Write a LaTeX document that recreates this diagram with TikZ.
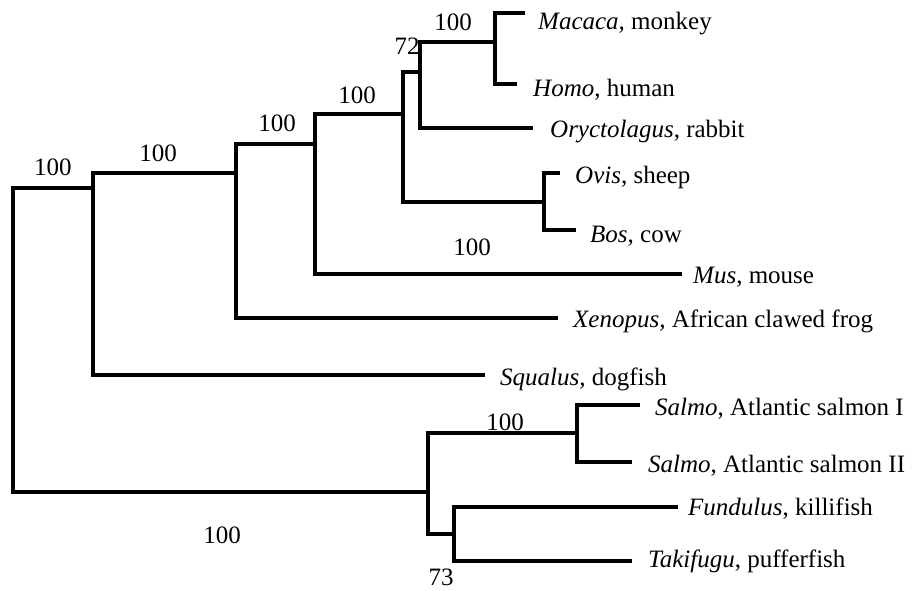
\documentclass[tikz,border=0pt]{standalone}
\usepackage{fontspec}
\setmainfont{Liberation Serif}
\begin{document}
\begin{tikzpicture}[x=1pt,y=-1pt,
  branch/.style={line width=4pt,line join=miter},
  taxon/.style={anchor=base west,inner sep=0pt,font=\fontsize{25}{28}\selectfont},
  support/.style={anchor=center,inner sep=0pt,font=\fontsize{25}{28}\selectfont}]
\useasboundingbox (0,0) rectangle (916,591);

% internal nodes: (x of the vertical bar, y where the parent joins)
\coordinate (root) at (13,340);
\coordinate (nA)   at (93,188);
\coordinate (nB)   at (236,173);
\coordinate (nC)   at (315,144);
\coordinate (nE)   at (403,114);
\coordinate (nD)   at (420,72);
\coordinate (nMH)  at (495,42);
\coordinate (nOB)  at (544,202);
\coordinate (nF)   at (428,492);
\coordinate (nS)   at (577,433);
\coordinate (nFT)  at (454,534);

% branch tips
\coordinate (tMacaca)   at (525,13);
\coordinate (tHomo)     at (517,84);
\coordinate (tOrycto)   at (533,128);
\coordinate (tOvis)     at (560,173);
\coordinate (tBos)      at (576,230);
\coordinate (tMus)      at (682,274);
\coordinate (tXenopus)  at (558,318);
\coordinate (tSqualus)  at (485,375);
\coordinate (tSalmoI)   at (640,405);
\coordinate (tSalmoII)  at (632,462);
\coordinate (tFundulus) at (678,507);
\coordinate (tTakifugu) at (632,561);

% tree brackets
\draw[branch] (nA) -| (root) |- (nF);
\draw[branch] (nB) -| (nA) |- (tSqualus);
\draw[branch] (nC) -| (nB) |- (tXenopus);
\draw[branch] (nE) -| (nC) |- (tMus);
\draw[branch] (nD) -| (nE) |- (nOB);
\draw[branch] (nMH) -| (nD) |- (tOrycto);
\draw[branch] (tMacaca) -| (nMH) |- (tHomo);
\draw[branch] (tOvis) -| (nOB) |- (tBos);
\draw[branch] (nS) -| (nF) |- (nFT);
\draw[branch] (tSalmoI) -| (nS) |- (tSalmoII);
\draw[branch] (tFundulus) -| (nFT) |- (tTakifugu);

% taxon names
\node[taxon] (lMacaca)   at (538,30)  {\textit{Macaca,} monkey};
\node[taxon] (lHomo)     at (533,97)  {\textit{Homo}, human};
\node[taxon] (lOrycto)   at (550,138) {\textit{Oryctolagus}, rabbit};
\node[taxon] (lOvis)     at (575,183) {\textit{Ovis}, sheep};
\node[taxon] (lBos)      at (590,242) {\textit{Bos}, cow};
\node[taxon] (lMus)      at (693,283) {\textit{Mus}, mouse};
\node[taxon] (lXenopus)  at (573,327) {\textit{Xenopus,} African clawed frog};
\node[taxon] (lSqualus)  at (500,385) {\textit{Squalus,} dogfish};
\node[taxon] (lSalmoI)   at (655,415) {\textit{Salmo}, Atlantic salmon I};
\node[taxon] (lSalmoII)  at (648,472) {\textit{Salmo}, Atlantic salmon II};
\node[taxon] (lFundulus) at (688,515) {\textit{Fundulus}, killifish};
\node[taxon] (lTakifugu) at (648,567) {\textit{Takifugu}, pufferfish};

% bootstrap support values
\node[support] (sA)  at (53,167)  {100};
\node[support] (sB)  at (158,153) {100};
\node[support] (sC)  at (277,123) {100};
\node[support] (sE)  at (357,95)  {100};
\node[support] (sD)  at (407,46)  {72};
\node[support] (sMH) at (453,22)  {100};
\node[support] (sOB) at (472,247) {100};
\node[support] (sS)  at (505,422) {100};
\node[support] (sFT) at (441,577) {73};
\node[support] (sF)  at (222,535) {100};
\end{tikzpicture}
\end{document}
